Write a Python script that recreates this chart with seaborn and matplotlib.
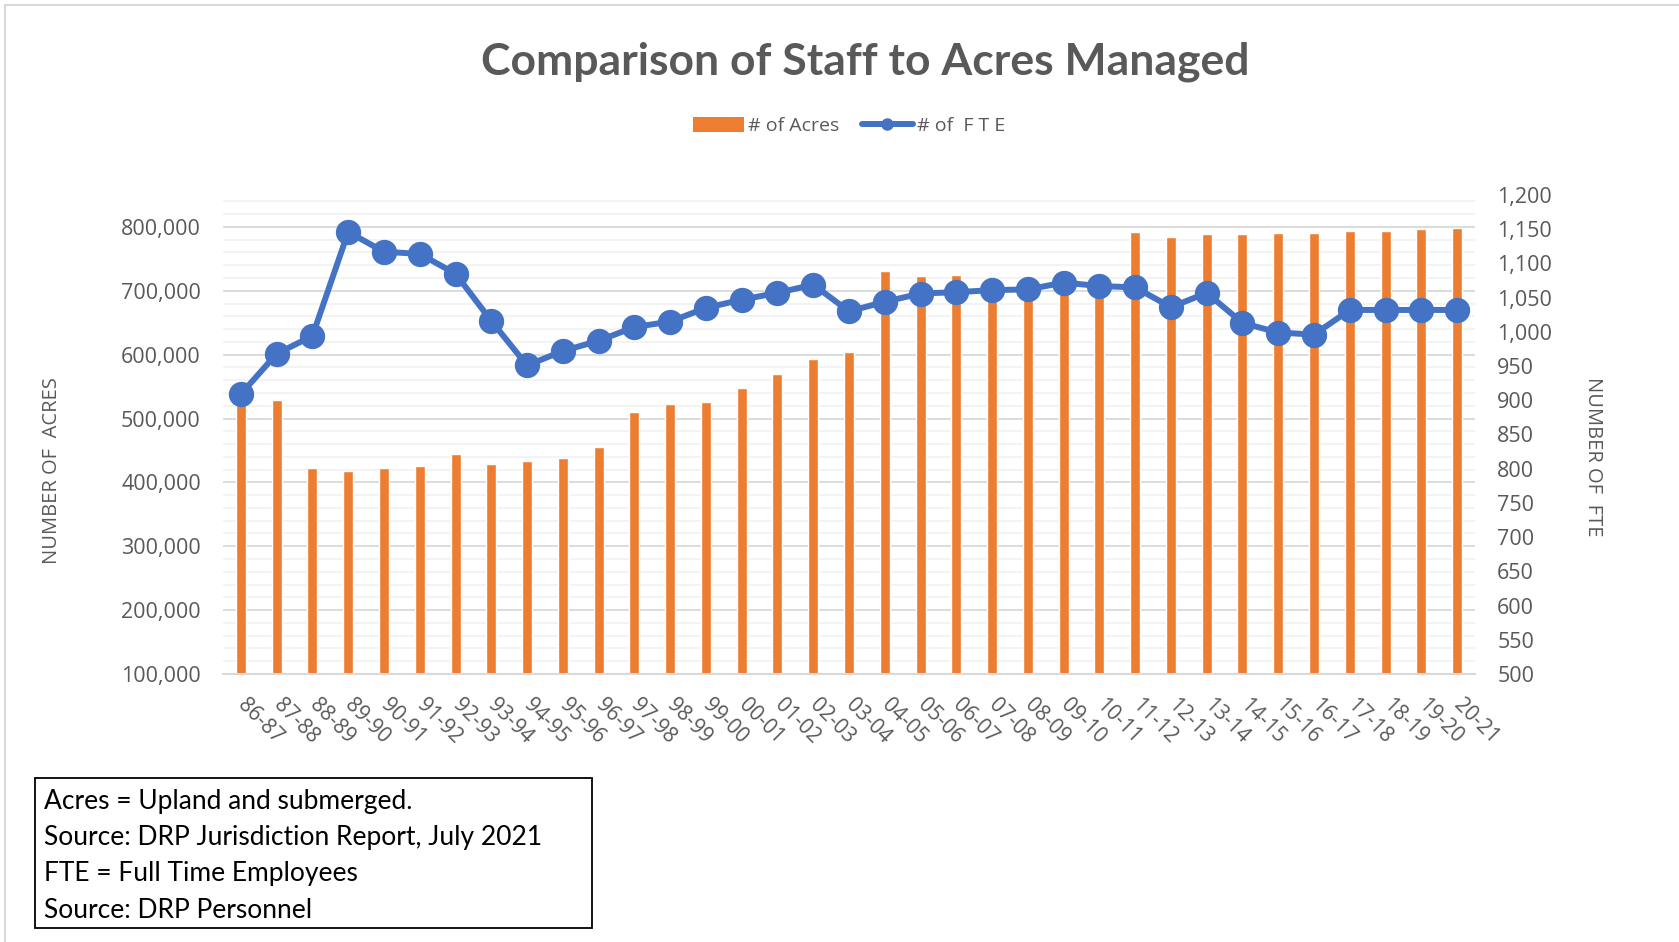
import numpy as np
import pandas as pd
import matplotlib.pyplot as plt
import seaborn as sns
from matplotlib.patches import Patch, Rectangle
from matplotlib.lines import Line2D
from matplotlib.ticker import FuncFormatter, MultipleLocator

# data
seasons = ["86-87", "87-88", "88-89", "89-90", "90-91", "91-92", "92-93", "93-94",
           "94-95", "95-96", "96-97", "97-98", "98-99", "99-00", "00-01", "01-02",
           "02-03", "03-04", "04-05", "05-06", "06-07", "07-08", "08-09", "09-10",
           "10-11", "11-12", "12-13", "13-14", "14-15", "15-16", "16-17", "17-18",
           "18-19", "19-20", "20-21"]
acres = [535000, 529000, 422500, 418500, 423000, 426000, 445000, 429500,
         433500, 437500, 455500, 511000, 523500, 526500, 548500, 570500,
         593500, 604000, 730500, 723500, 724000, 706000, 708000, 712000,
         709000, 792000, 785000, 788500, 789500, 791000, 791000, 794000,
         794000, 797000, 798000]
fte = [909, 968, 994, 1146, 1117, 1114, 1085, 1016,
       951, 972, 987, 1007, 1015, 1035, 1047, 1057,
       1069, 1030, 1044, 1056, 1058, 1061, 1062, 1072,
       1067, 1065, 1036, 1057, 1013, 999, 996, 1032,
       1032, 1032, 1032]

orange = "#ED7D31"
blue = "#4472C4"
grey_txt = "#595959"

df = pd.DataFrame({"season": seasons, "acres": acres, "fte": fte})

sns.set_style("white")
plt.rcParams["font.family"] = ["Open Sans", "DejaVu Sans"]

fig = plt.figure(figsize=(16.79, 9.42), dpi=100)
ax = fig.add_axes([223 / 1679, 1 - 674 / 942, (1475 - 223) / 1679, (674 - 195) / 942])

sns.barplot(data=df, x="season", y="acres", color=orange, width=0.28,
            saturation=1, ax=ax, zorder=2)
ax.set_ylim(100000, 850000)
ax.set_xlim(-0.5, len(seasons) - 0.5)
ax.set_yticks(np.arange(100000, 800001, 100000))
ax.yaxis.set_minor_locator(MultipleLocator(20000))
ax.yaxis.set_major_formatter(FuncFormatter(lambda v, p: f"{int(v):,}"))
ax.grid(axis="y", which="major", color="#D9D9D9", linewidth=1.3)
ax.grid(axis="y", which="minor", color="#F2F2F2", linewidth=1.3)
ax.set_axisbelow(True)
ax.set_xlabel("")
ax.set_ylabel("")
for s in ["top", "left", "right"]:
    ax.spines[s].set_visible(False)
ax.spines["bottom"].set_color("#D9D9D9")
ax.spines["bottom"].set_linewidth(1.5)
ax.tick_params(axis="y", which="both", length=0, pad=16, labelsize=15.5, labelcolor=grey_txt)
ax.set_xticks(np.arange(-0.5, len(seasons), 1), minor=True)
ax.tick_params(axis="x", which="minor", length=6, width=1.3, color="#D9D9D9")
ax.tick_params(axis="x", which="major", length=0, pad=20, labelsize=15, labelcolor=grey_txt)
for lbl in ax.get_xticklabels():
    lbl.set_rotation(-45)
    lbl.set_ha("left")
    lbl.set_va("center")
    lbl.set_rotation_mode("anchor")

ax2 = ax.twinx()
sns.pointplot(data=df, x="season", y="fte", color=blue, markers="o",
              markersize=15, linewidth=4.3, errorbar=None, ax=ax2)
ax2.set_ylim(500, 1200)
ax2.set_xlim(-0.5, len(seasons) - 0.5)
ax2.set_yticks(np.arange(500, 1201, 50))
ax2.yaxis.set_major_formatter(FuncFormatter(lambda v, p: f"{int(v):,}"))
ax2.set_xlabel("")
ax2.set_ylabel("")
ax2.grid(False)
for s in ["top", "left", "right", "bottom"]:
    ax2.spines[s].set_visible(False)
ax2.tick_params(axis="y", length=0, pad=16, labelsize=15.5, labelcolor=grey_txt)
ax2.tick_params(axis="x", which="both", length=0, labelbottom=False)

# titles and axis titles
fig.text(865 / 1679, 1 - 62 / 942, "Comparison of Staff to Acres Managed",
         ha="center", va="center", fontsize=32, fontweight="bold", color=grey_txt,
         family=["Lato", "DejaVu Sans"])
fig.text(52 / 1679, 1 - 471 / 942, "NUMBER OF  ACRES", rotation=90,
         ha="center", va="center", fontsize=14.5, color=grey_txt)
fig.text(1593 / 1679, 1 - 457 / 942, "NUMBER OF  FTE", rotation=270,
         ha="center", va="center", fontsize=14.5, color=grey_txt)

handles = [Patch(facecolor=orange, edgecolor="none"),
           Line2D([0], [0], color=blue, linewidth=4.3, marker="o", markersize=8)]
fig.legend(handles, ["# of Acres", "# of  F T E"], loc="center",
           bbox_to_anchor=(849 / 1679, 1 - 126 / 942), ncol=2, frameon=False,
           fontsize=14, labelcolor=grey_txt, handlelength=2.6, handleheight=0.8,
           handletextpad=0.2, columnspacing=1.2)

# note box
fig.patches.append(Rectangle((35 / 1679, 1 - 928 / 942), (592 - 35) / 1679, 150 / 942,
                             transform=fig.transFigure, fill=False, edgecolor="black",
                             linewidth=1.3))
notes = ["Acres = Upland and submerged.",
         "Source: DRP Jurisdiction Report, July 2021",
         "FTE = Full Time Employees",
         "Source: DRP Personnel"]
for i, line in enumerate(notes):
    fig.text(44 / 1679, 1 - (802 + 36 * i) / 942, line, ha="left", va="center",
             fontsize=19, color="black", family=["Lato", "DejaVu Sans"])

# faint outer frame
fig.add_artist(Line2D([5 / 1679, 1], [1 - 5 / 942, 1 - 5 / 942], transform=fig.transFigure,
                      color="#D9D9D9", linewidth=1.5))
fig.add_artist(Line2D([5 / 1679, 5 / 1679], [0, 1 - 5 / 942], transform=fig.transFigure,
                      color="#D9D9D9", linewidth=1.5))

fig.savefig("out.png", dpi=100)
